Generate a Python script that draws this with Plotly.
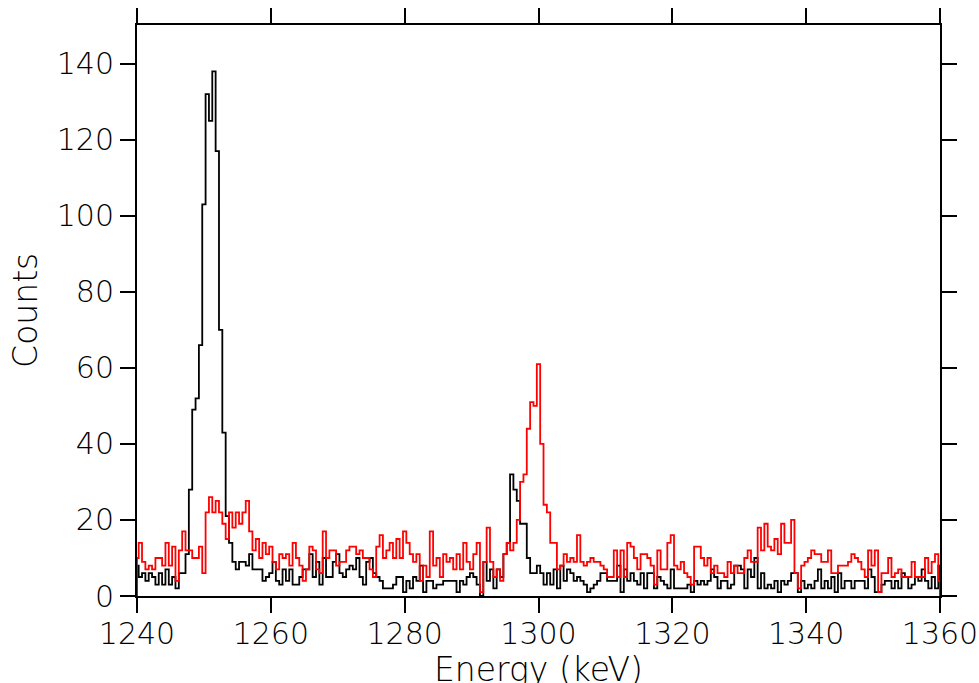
import numpy as np
import plotly.graph_objects as go

# Histogram bin centres: 0.5 keV bins from 1240 to 1360 keV
bin_width = 0.5
e_min, e_max = 1240.0, 1360.0

red_counts = [
    10, 14, 9, 7, 8, 7, 10, 10, 8, 14,
    8, 13, 4, 12, 17, 12, 12, 10, 10, 13,
    6, 22, 26, 22, 25, 22, 19, 15, 22, 18,
    22, 19, 22, 25, 17, 12, 15, 10, 14, 11,
    13, 9, 7, 11, 10, 11, 8, 14, 10, 8,
    4, 7, 13, 12, 7, 6, 17, 10, 12, 12,
    8, 9, 9, 12, 13, 13, 11, 12, 10, 10,
    7, 5, 13, 16, 10, 12, 14, 10, 15, 10,
    17, 14, 11, 9, 11, 4, 8, 5, 17, 8,
    10, 5, 11, 9, 10, 7, 11, 7, 14, 9,
    7, 11, 14, 1, 9, 18, 9, 5, 7, 4,
    11, 14, 12, 14, 20, 30, 32, 44, 51, 50,
    61, 40, 24, 22, 14, 14, 7, 8, 11, 9,
    10, 9, 16, 9, 8, 9, 10, 9, 9, 8,
    7, 5, 5, 12, 5, 12, 5, 14, 13, 10,
    7, 11, 11, 10, 8, 3, 12, 7, 7, 14,
    16, 8, 7, 9, 6, 5, 3, 13, 13, 10,
    8, 10, 6, 8, 6, 6, 5, 9, 6, 8,
    6, 6, 10, 12, 9, 9, 18, 12, 19, 13,
    12, 15, 11, 19, 14, 14, 20, 6, 2, 8,
    9, 10, 12, 11, 11, 9, 9, 12, 6, 6,
    8, 8, 8, 9, 11, 10, 9, 7, 5, 12,
    8, 12, 1, 6, 6, 10, 5, 6, 7, 5,
    5, 5, 9, 5, 5, 5, 10, 6, 9, 11,
    4,
]

black_counts = [
    8, 5, 6, 4, 6, 5, 3, 6, 3, 7,
    3, 5, 2, 6, 6, 11, 28, 49, 52, 66,
    103, 132, 125, 138, 117, 70, 43, 21, 14, 9,
    7, 9, 9, 8, 11, 7, 7, 7, 4, 5,
    6, 9, 4, 3, 7, 4, 7, 3, 3, 5,
    7, 7, 11, 5, 9, 3, 10, 5, 5, 9,
    11, 6, 5, 7, 8, 7, 10, 5, 3, 9,
    10, 6, 5, 4, 2, 2, 2, 3, 5, 5,
    1, 4, 2, 5, 4, 8, 1, 4, 4, 2,
    3, 3, 4, 4, 4, 4, 1, 4, 3, 5,
    6, 5, 3, 0, 9, 4, 7, 2, 7, 5,
    11, 14, 32, 28, 25, 19, 19, 10, 6, 6,
    8, 6, 3, 6, 3, 7, 2, 8, 4, 7,
    6, 4, 5, 4, 3, 1, 2, 3, 4, 6,
    6, 4, 4, 4, 8, 1, 7, 4, 6, 4,
    3, 6, 2, 6, 6, 2, 5, 4, 3, 2,
    7, 2, 2, 2, 2, 3, 1, 4, 3, 4,
    3, 4, 7, 5, 2, 4, 4, 2, 3, 8,
    8, 7, 2, 7, 5, 10, 2, 6, 2, 3,
    2, 4, 1, 4, 3, 4, 6, 6, 1, 4,
    2, 3, 2, 4, 7, 2, 4, 2, 5, 1,
    6, 2, 4, 4, 2, 4, 4, 4, 2, 7,
    5, 1, 1, 3, 4, 4, 2, 4, 2, 6,
    5, 2, 3, 5, 4, 7, 4, 2, 5, 2,
    8,
]

x_ticks = [1240, 1260, 1280, 1300, 1320, 1340, 1360]
y_ticks = [0, 20, 40, 60, 80, 100, 120, 140]

energies = e_min + bin_width * np.arange(len(red_counts))


def closed(values):
    # close the histogram outline down to zero at both ends of the range
    xs = np.concatenate([[e_min], energies, [e_max]])
    ys = np.concatenate([[0], values, [0]])
    return xs, ys


FONT = "DejaVu Sans"
TICK_FONT = dict(family=FONT, size=30, color="black", weight=200)
TITLE_FONT = dict(family=FONT, size=33, color="black", weight=200)

fig = go.Figure()
bx, by = closed(black_counts)
rx, ry = closed(red_counts)
fig.add_trace(go.Scatter(x=bx, y=by, mode="lines", line=dict(color="black", width=1.8, shape="hvh"),
                         showlegend=False, hoverinfo="skip"))
fig.add_trace(go.Scatter(x=rx, y=ry, mode="lines", line=dict(color="#ff0000", width=1.8, shape="hvh"),
                         showlegend=False, hoverinfo="skip"))

axis_common = dict(
    showgrid=False, zeroline=False, showline=True, linecolor="black", linewidth=2,
    ticks="outside", ticklen=15, tickwidth=1.5, tickcolor="black", mirror="ticks",
    tickfont=TICK_FONT, layer="below traces", automargin=False,
)

fig.update_layout(
    width=979, height=683,
    margin=dict(l=137, r=39, t=25, b=87, autoexpand=False),
    paper_bgcolor="white", plot_bgcolor="white",
    xaxis=dict(range=[e_min, e_max], tickvals=x_ticks, ticktext=[str(v) for v in x_ticks],
               ticklabelstandoff=-5, **axis_common),
    yaxis=dict(range=[0, 150.2], tickvals=y_ticks, ticktext=[str(v) for v in y_ticks], **axis_common),
    annotations=[
        dict(text="Energy (keV)", xref="paper", yref="paper", x=0.5, y=-0.128, xanchor="center",
             yanchor="middle", showarrow=False, font=TITLE_FONT),
        dict(text="Counts", xref="paper", yref="paper", x=-0.139, y=0.5, xanchor="center",
             yanchor="middle", textangle=-90, showarrow=False, font=TITLE_FONT),
    ],
)

fig.write_html("out.html")
